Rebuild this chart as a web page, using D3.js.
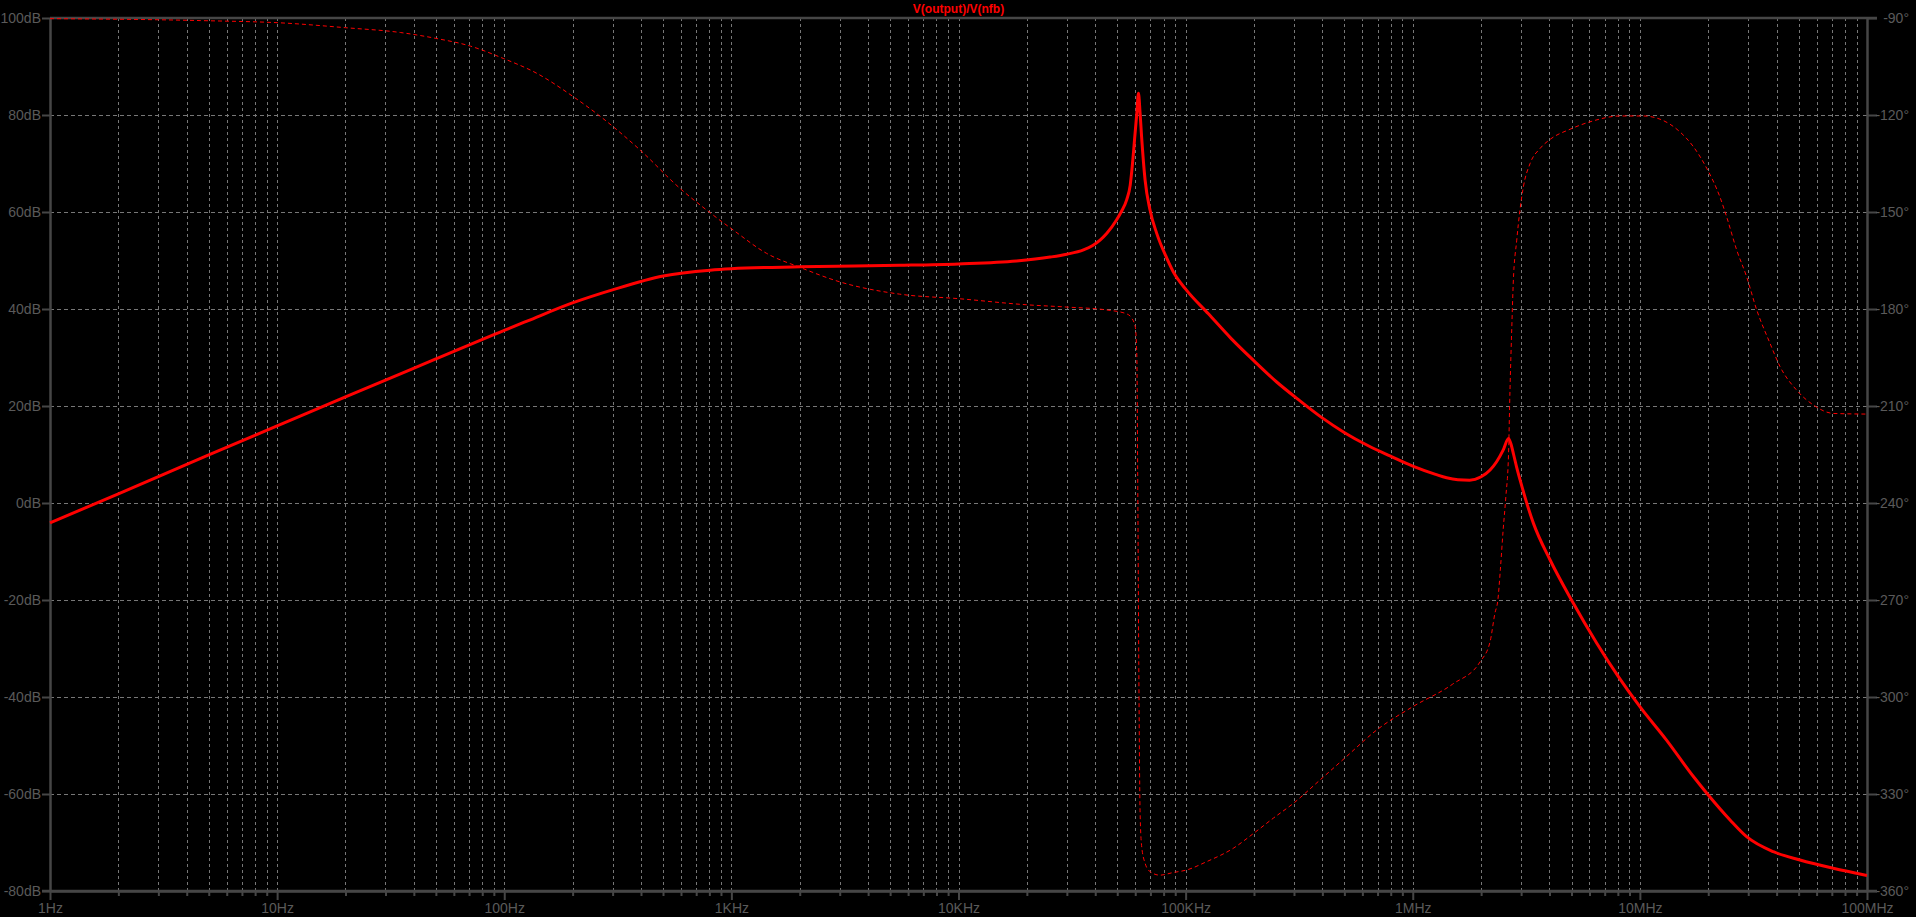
<!DOCTYPE html>
<html>
<head>
<meta charset="utf-8">
<script src="https://cdn.jsdelivr.net/npm/d3@7"></script>
<style>
  body { margin: 0; background: #000; }
  svg { display: block; }
</style>
</head>
<body>
<div id="bode"></div>
<script>
// tick labels
var freqLabels = ["1Hz", "10Hz", "100Hz", "1KHz", "10KHz", "100KHz", "1MHz", "10MHz", "100MHz"];
var dbTicks = [100, 80, 60, 40, 20, 0, -20, -40, -60, -80];
var phaseTicks = [-90, -120, -150, -180, -210, -240, -270, -300, -330, -360];

// V(output)/V(nfb) magnitude
var magFreq = [1, 2, 5, 10, 20, 50, 100, 126, 201, 302, 501, 806, 1000, 2000, 5500, 10000, 18000,
  25300, 30000, 35500, 39000, 42000, 45000, 49700, 52000, 55000, 57000, 58000, 59900, 61000, 62000,
  63000, 64000, 66300, 69700, 74600, 82600, 89100, 100000, 126000, 158000, 200000, 251000, 316000,
  398000, 501000, 631000, 794000, 1000000, 1260000, 1410000, 1580000, 1780000, 2000000, 2190000,
  2340000, 2500000, 2640000, 2700000, 2780000, 2870000, 2970000, 3400000, 4020000,
  5000000, 6460000, 8040000, 10000000, 13100000, 17200000, 20000000, 25000000, 29500000, 38700000,
  50700000, 71000000, 100000000];
var magDb = [-4.1, 1.9, 9.9, 15.9, 21.9, 29.7, 35.6, 37.5, 41.3, 44.0, 46.8, 48.0, 48.3, 48.7, 49.0, 49.3, 49.9,
  50.7, 51.3, 52.2, 53.1, 54.2, 55.6, 58.4, 60.0, 62.5, 65.5, 68.7, 76.2, 80.5, 84.5,
  80.5, 75.5, 66.6, 60.4, 55.6, 50.5, 47.3, 44.1, 39.0, 34.0, 29.3, 25.0, 21.2,
  17.6, 14.5, 11.9, 9.7, 7.6, 5.9, 5.2, 4.8, 4.7, 5.4, 6.8,
  8.5, 10.9, 13.3, 12.3, 10.0, 7.3, 4.7, -4.2, -11.7,
  -20.0, -28.9, -35.8, -42.0, -48.9, -56.4, -60.2, -65.4, -68.8, -71.9,
  -73.6, -75.3, -76.8];

// phase, degrees
var phaseFreq = [1, 4.6, 11, 20, 35, 50, 71, 99, 139, 201, 260, 396, 594, 805, 1020, 1430, 2000, 3000,
  5500, 10000, 20000, 30000, 45000, 55000, 58000, 60000, 61000, 61500, 62200, 63000, 64000, 66300,
  69700, 77000, 88000, 101000, 124000, 162000, 199000, 243000, 298000, 390000, 500000, 700000,
  1000000, 1500000, 1980000, 2190000, 2300000, 2370000, 2430000, 2500000, 2570000, 2640000, 2680000,
  2730000, 2770000, 2870000, 2965000, 3070000, 3290000, 3640000, 4030000, 4930000, 6240000, 8170000,
  10350000, 12270000, 15000000, 17200000, 19700000, 22500000, 24100000, 26700000, 29500000, 32700000,
  37400000, 41400000, 49000000, 58100000, 71100000, 100000000];
var phaseDeg = [-90.2, -90.8, -91.6, -93.0, -94.5, -96.3, -98.7, -102.5, -107.1, -114.3, -120.0, -130.8, -142.7, -150.2, -155.6, -162.8, -167.1, -171.6,
  -175.4, -176.8, -178.7, -179.4, -180.3, -181.5, -182.9, -185.5, -195, -230, -290, -335, -346, -351.4,
  -354.0, -355.1, -354.3, -353.5, -350.9, -346.8, -342.2, -337.5, -332.9, -325.7, -319.0, -310.0,
  -303.0, -296.0, -289.1, -282.9, -274.1, -270.0, -260.7, -248.4, -238.0, -225.0, -205.0,
  -185.5, -172.0, -158.7, -149.4, -142.2, -134.9, -130.3, -127.5, -124.4, -121.8, -120.3,
  -120.3, -121.3, -125.2, -129.8, -136.5, -145.3, -151.5, -161.8, -170.0, -180.3,
  -190.6, -197.8, -205.1, -209.7, -212.3, -212.5];

var W = 1916, H = 917;
var margin = {top: 18, right: 49, bottom: 26, left: 50},
    width = W - margin.left - margin.right,
    height = H - margin.top - margin.bottom;

var axisColor = "#464646", textColor = "#5a5a5a", gridColor = "#777";

var svg = d3.select("#bode")
  .append("svg")
    .attr("width", W)
    .attr("height", H)
  .append("g")
    .attr("transform", "translate(" + margin.left + "," + margin.top + ")");

var x = d3.scaleLog().domain([1, 1e8]).range([0, width]);
var y = d3.scaleLinear().domain([-80, 100]).range([height, 0]);
var yPh = d3.scaleLinear().domain([-360, -90]).range([height, 0]);

// every 1..9 x decade for the grid
var gridFreqs = [];
for (var d = 0; d < 8; d++) {
  for (var m = 1; m < 10; m++) gridFreqs.push(m * Math.pow(10, d));
}
gridFreqs.push(1e8);
var majorFreqs = freqLabels.map(function(l, i) { return Math.pow(10, i); });

// grid
svg.append("g")
  .selectAll("line")
  .data(gridFreqs.filter(function(f) { return f > 1 && f < 1e8; }))
  .enter().append("line")
    .attr("x1", function(f) { return Math.round(x(f)) + 0.5; })
    .attr("x2", function(f) { return Math.round(x(f)) + 0.5; })
    .attr("y1", 0).attr("y2", height)
    .attr("stroke", gridColor)
    .attr("stroke-dasharray", "3,3");
svg.append("g")
  .selectAll("line")
  .data(dbTicks.filter(function(v) { return v < 100 && v > -80; }))
  .enter().append("line")
    .attr("y1", function(v) { return Math.round(y(v)) + 0.5; })
    .attr("y2", function(v) { return Math.round(y(v)) + 0.5; })
    .attr("x1", 0).attr("x2", width)
    .attr("stroke", gridColor)
    .attr("stroke-dasharray", "4,3");

// top frame line
svg.append("line")
  .attr("x1", 0).attr("x2", width + 10)
  .attr("y1", 0).attr("y2", 0)
  .attr("stroke", axisColor).attr("stroke-width", 2.5);

// bottom axis
var xAxis = svg.append("g")
  .attr("transform", "translate(0," + height + ")")
  .call(d3.axisBottom(x).tickValues(gridFreqs).tickSize(5).tickSizeOuter(0)
    .tickFormat(function(f) {
      var i = majorFreqs.indexOf(f);
      return i >= 0 ? freqLabels[i] : "";
    }));
xAxis.selectAll(".tick line")
  .attr("y2", function(f) { return majorFreqs.indexOf(f) >= 0 ? 9 : 5; });
xAxis.selectAll(".tick text").attr("y", 12).attr("dy", "0.71em");

// left axis (dB)
var yAxis = svg.append("g")
  .call(d3.axisLeft(y).tickValues(dbTicks).tickSize(8).tickPadding(1).tickSizeOuter(0)
    .tickFormat(function(v) { return v + "dB"; }));

// right axis (degrees)
var phAxis = svg.append("g")
  .attr("transform", "translate(" + width + ",0)")
  .call(d3.axisRight(yPh).tickValues(phaseTicks).tickSize(10).tickSizeOuter(0)
    .tickFormat(function(v) { return v + "\u00b0"; }));
phAxis.selectAll(".tick text").attr("x", 42).attr("text-anchor", "end");

[xAxis, yAxis, phAxis].forEach(function(a) {
  a.select(".domain").attr("stroke", axisColor).attr("stroke-width", 2.5);
  a.selectAll(".tick line").attr("stroke", axisColor).attr("stroke-width", 2);
  a.selectAll(".tick text")
    .attr("fill", textColor)
    .style("font-family", "'Liberation Sans', Arial, sans-serif")
    .style("font-size", "14px");
  a.attr("font-family", null).attr("font-size", null);
});
// bottom line runs on under the end ticks
svg.append("line")
  .attr("x1", -8).attr("x2", width + 10)
  .attr("y1", height).attr("y2", height)
  .attr("stroke", axisColor).attr("stroke-width", 2.5);

// title
svg.append("text")
  .attr("x", width / 2).attr("y", -5)
  .attr("text-anchor", "middle")
  .attr("fill", "#ff0000")
  .style("font-family", "'Liberation Sans', Arial, sans-serif")
  .style("font-size", "12px")
  .style("font-weight", "bold")
  .text("V(output)/V(nfb)");

// traces
var magData = d3.zip(magFreq, magDb);
var phData = d3.zip(phaseFreq, phaseDeg);

svg.append("path")
  .datum(phData)
  .attr("fill", "none")
  .attr("stroke", "#ff0000")
  .attr("stroke-width", 1)
  .attr("stroke-dasharray", "4,3")
  .attr("d", d3.line()
    .x(function(d) { return x(d[0]); })
    .y(function(d) { return yPh(d[1]); })
    .curve(d3.curveMonotoneX));

svg.append("path")
  .datum(magData)
  .attr("fill", "none")
  .attr("stroke", "#ff0000")
  .attr("stroke-width", 3)
  .attr("stroke-linejoin", "round")
  .attr("d", d3.line()
    .x(function(d) { return x(d[0]); })
    .y(function(d) { return y(d[1]); })
    .curve(d3.curveMonotoneX));
</script>
</body>
</html>
